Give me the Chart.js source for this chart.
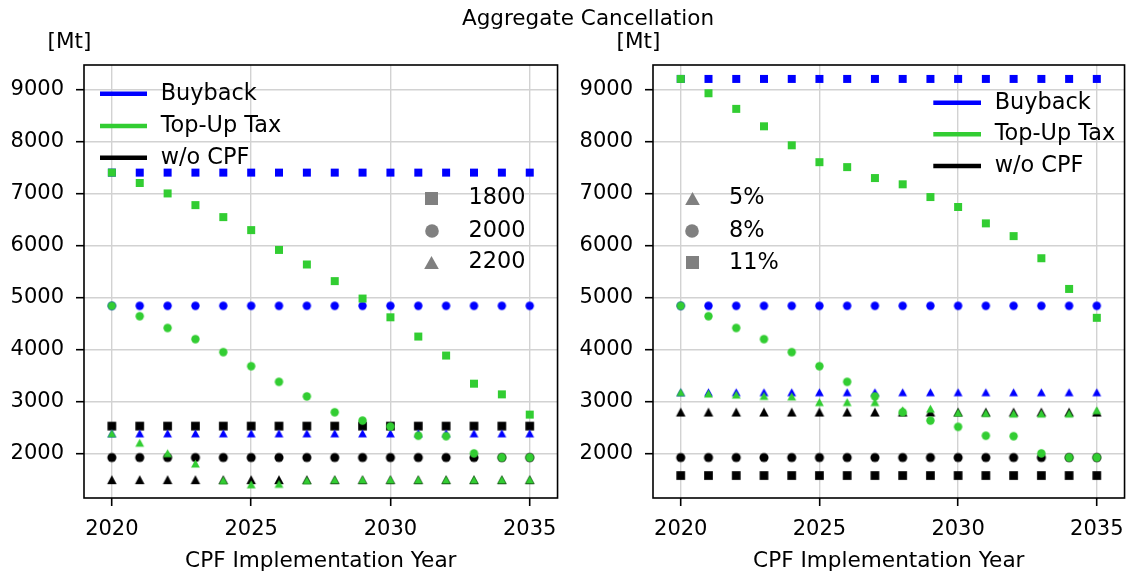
<!DOCTYPE html>
<html><head><meta charset="utf-8">
<script src="https://cdn.jsdelivr.net/npm/chart.js@4.4.0/dist/chart.umd.min.js"></script>
<style>
html,body{margin:0;padding:0;background:#fff;width:1135px;height:578px;overflow:hidden;}
.txt{position:absolute;font-family:'DejaVu Sans';font-size:21.5px;line-height:25px;color:#000;white-space:nowrap;}
#w1{position:absolute;left:0;top:0;width:568px;height:578px;}
#w2{position:absolute;left:569px;top:0;width:566px;height:578px;}
</style></head><body>
<div id="w1"><canvas id="c1" width="568" height="578"></canvas></div>
<div id="w2"><canvas id="c2" width="566" height="578"></canvas></div>
<div class="txt" style="left:588px;top:5px;transform:translateX(-50%)">Aggregate Cancellation</div>
<div class="txt" style="left:69.5px;top:27.5px;transform:translateX(-50%)">[Mt]</div>
<div class="txt" style="left:638.5px;top:27.5px;transform:translateX(-50%)">[Mt]</div>
<script>
// ---------- data ----------
const years = [2020,2021,2022,2023,2024,2025,2026,2027,2028,2029,2030,2031,2032,2033,2034,2035];
const xTicks = [2020, 2025, 2030, 2035];
const yTicks = [2000, 3000, 4000, 5000, 6000, 7000, 8000, 9000];
const policies = ['Buyback', 'Top-Up Tax', 'w/o CPF'];
const leftScenarios = ['1800', '2000', '2200'];
const rightScenarios = ['5%', '8%', '11%'];

// left panel (scenario markers: 1800 square, 2000 circle, 2200 triangle)
const L_buyback_1800 = [7400,7400,7400,7400,7400,7400,7400,7400,7400,7400,7400,7400,7400,7400,7400,7400];
const L_topup_1800   = [7400,7200,7000,6775,6545,6295,5915,5635,5315,4980,4620,4250,3885,3345,3140,2750];
const L_wo_1800      = [2530,2530,2530,2530,2530,2530,2530,2530,2530,2530,2530,2530,2530,2530,2530,2530];
const L_buyback_2000 = [4840,4840,4840,4840,4840,4840,4840,4840,4840,4840,4840,4840,4840,4840,4840,4840];
const L_topup_2000   = [4840,4640,4415,4200,3950,3680,3380,3100,2795,2635,2520,2345,2335,2005,1925,1925];
const L_wo_2000      = [1925,1925,1925,1925,1925,1925,1925,1925,1925,1925,1925,1925,1925,1925,1925,1925];
const L_buyback_2200 = [2390,2390,2390,2390,2390,2390,2390,2390,2390,2390,2390,2390,2390,2390,2390,2390];
const L_topup_2200   = [2390,2210,2010,1810,1490,1410,1420,1490,1500,1500,1500,1500,1500,1500,1500,1500];
const L_wo_2200      = [1500,1500,1500,1500,1500,1500,1500,1500,1500,1500,1500,1500,1500,1500,1500,1500];

// right panel (scenario markers: 5% triangle, 8% circle, 11% square)
const R_buyback_5  = [3180,3180,3180,3180,3180,3180,3180,3180,3180,3180,3180,3180,3180,3180,3180,3180];
const R_topup_5    = [3180,3155,3135,3110,3100,2990,2990,2990,2835,2865,2790,2780,2770,2770,2770,2835];
const R_wo_5       = [2800,2800,2800,2800,2800,2800,2800,2800,2800,2800,2800,2800,2800,2800,2800,2800];
const R_buyback_8  = [4840,4840,4840,4840,4840,4840,4840,4840,4840,4840,4840,4840,4840,4840,4840,4840];
const R_topup_8    = [4840,4640,4415,4200,3950,3680,3380,3100,2795,2635,2515,2345,2335,2005,1925,1925];
const R_wo_8       = [1925,1925,1925,1925,1925,1925,1925,1925,1925,1925,1925,1925,1925,1925,1925,1925];
const R_buyback_11 = [9200,9200,9200,9200,9200,9200,9200,9200,9200,9200,9200,9200,9200,9200,9200,9200];
const R_topup_11   = [9200,8925,8625,8290,7925,7600,7505,7295,7175,6930,6740,6425,6180,5755,5165,4610];
const R_wo_11      = [1580,1580,1580,1580,1580,1580,1580,1580,1580,1580,1580,1580,1580,1580,1580,1580];

// ---------- styling ----------
const FONT = 'DejaVu Sans';
const COL = {'Buyback':'#0000ff', 'Top-Up Tax':'#32cd32', 'w/o CPF':'#000000'};
const GRAY = '#808080';

function marker(shape, color, w, h){
  const c = document.createElement('canvas');
  const W = Math.ceil(w) + 2, H = Math.ceil(h) + 2;
  c.width = W; c.height = H;
  const g = c.getContext('2d');
  g.fillStyle = color;
  const cx = W/2, cy = H/2;
  g.beginPath();
  if (shape === 's') g.rect(cx - w/2, cy - h/2, w, h);
  else if (shape === 'o') g.arc(cx, cy, w/2, 0, Math.PI*2);
  else { g.moveTo(cx, cy - h/2); g.lineTo(cx + w/2, cy + h/2); g.lineTo(cx - w/2, cy + h/2); g.closePath(); }
  g.fill();
  return c;
}
function mk(shape, color){
  const big = color === '#000000' ? 0.7 : 0;
  if (shape === 's') return marker('s', color, 8.0 + big, 8.0 + big);
  if (shape === 'o') return marker('o', color, 8.4 + big, 8.4 + big);
  return marker('^', color, 8.8 + big, 8.2 + big);
}
function ds(policy, shape, vals){
  return {
    label: policy,
    data: years.map((y, i) => ({x: y, y: vals[i]})),
    pointStyle: mk(shape, COL[policy]),
    pointRadius: 4, pointHoverRadius: 4, showLine: false
  };
}

const framePlugin = {
  id: 'frame',
  afterDraw(chart, args, o){
    const ctx = chart.ctx, a = chart.chartArea;
    ctx.save();
    ctx.strokeStyle = '#000'; ctx.lineWidth = 1.6;
    ctx.strokeRect(a.left, a.top, a.right - a.left, a.bottom - a.top);
    ctx.font = '22.4px "' + FONT + '"';
    ctx.textBaseline = 'middle'; ctx.textAlign = 'left'; ctx.fillStyle = '#000';
    o.lines.rows.forEach((y, i) => {
      ctx.strokeStyle = COL[policies[i]]; ctx.lineWidth = 4.6; ctx.lineCap = 'butt';
      ctx.beginPath(); ctx.moveTo(o.lines.x0, y); ctx.lineTo(o.lines.x1, y); ctx.stroke();
      ctx.fillText(policies[i], o.lines.tx, y);
    });
    o.marks.rows.forEach((y, i) => {
      const s = o.marks.shapes[i];
      const img = s === 's' ? marker('s', GRAY, 13, 13) : s === 'o' ? marker('o', GRAY, 13.6, 13.6) : marker('^', GRAY, 14.6, 13);
      ctx.drawImage(img, Math.round(o.marks.x - img.width/2), Math.round(y - img.height/2));
      ctx.fillText(o.marks.labels[i], o.marks.tx, y);
    });
    ctx.restore();
  }
};

function makeChart(id, datasets, padRight, legendOpts){
  return new Chart(document.getElementById(id), {
    type: 'scatter',
    data: {datasets},
    plugins: [framePlugin],
    options: {
      responsive: false, animation: false, events: [],
      layout: {padding: {left: 0, right: padRight, top: 65, bottom: 0}},
      plugins: {legend: {display: false}, tooltip: {enabled: false}, title: {display: false}, frame: legendOpts},
      scales: {
        x: {
          type: 'linear', min: 2019, max: 2036,
          afterBuildTicks: s => { s.ticks = xTicks.map(v => ({value: v})); },
          afterFit: s => { s.height = 80; },
          grid: {color: '#d2d2d2', lineWidth: 1.4, tickColor: '#000', tickLength: 8, tickWidth: 1.6},
          border: {display: false},
          ticks: {font: {family: FONT, size: 21}, color: '#000', padding: 11, maxRotation: 0, autoSkip: false, callback: v => String(v)},
          title: {display: true, text: 'CPF Implementation Year', font: {family: FONT, size: 21.6}, color: '#000', padding: {top: 0, bottom: 4}}
        },
        y: {
          type: 'linear', min: 1148, max: 9467,
          afterBuildTicks: s => { s.ticks = yTicks.map(v => ({value: v})); },
          afterFit: s => { s.width = 84; },
          grid: {color: '#d2d2d2', lineWidth: 1.4, tickColor: '#000', tickLength: 8, tickWidth: 1.6},
          border: {display: false},
          ticks: {font: {family: FONT, size: 21}, color: '#000', padding: 12, autoSkip: false, callback: v => String(v)}
        }
      }
    }
  });
}

// draw order: first dataset drawn on top
makeChart('c1', [
  ds('Top-Up Tax', 's', L_topup_1800), ds('Top-Up Tax', 'o', L_topup_2000), ds('Top-Up Tax', '^', L_topup_2200),
  ds('Buyback', 's', L_buyback_1800), ds('Buyback', 'o', L_buyback_2000), ds('Buyback', '^', L_buyback_2200),
  ds('w/o CPF', 's', L_wo_1800), ds('w/o CPF', 'o', L_wo_2000), ds('w/o CPF', '^', L_wo_2200)
], 10, {
  lines: {x0: 100, x1: 147, tx: 160.7, rows: [93.7, 126, 157.7]},
  marks: {x: 431.7, tx: 468.5, rows: [198.3, 230.7, 262], shapes: ['s', 'o', '^'], labels: leftScenarios}
});

makeChart('c2', [
  ds('Top-Up Tax', '^', R_topup_5), ds('Top-Up Tax', 'o', R_topup_8), ds('Top-Up Tax', 's', R_topup_11),
  ds('Buyback', '^', R_buyback_5), ds('Buyback', 'o', R_buyback_8), ds('Buyback', 's', R_buyback_11),
  ds('w/o CPF', '^', R_wo_5), ds('w/o CPF', 'o', R_wo_8), ds('w/o CPF', 's', R_wo_11)
], 8, {
  lines: {x0: 364.3, x1: 412, tx: 425.7, rows: [102.7, 134.3, 166]},
  marks: {x: 123.3, tx: 160, rows: [198.3, 231, 262.7], shapes: ['^', 'o', 's'], labels: rightScenarios}
});
</script>
</body></html>
